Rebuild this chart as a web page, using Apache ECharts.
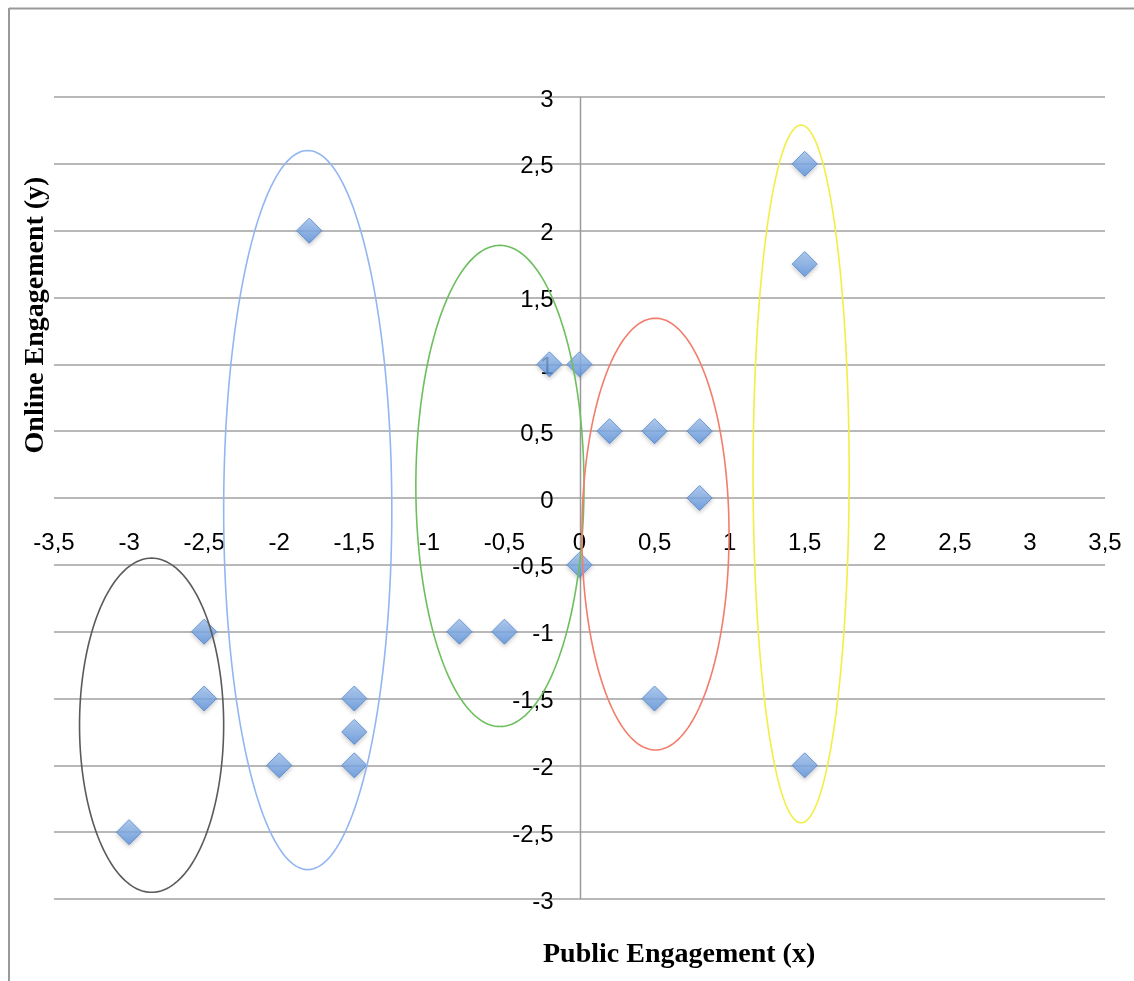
<!DOCTYPE html>
<html>
<head>
<meta charset="utf-8">
<script src="https://cdn.jsdelivr.net/npm/echarts@6/dist/echarts.min.js"></script>
<style>
  html, body { margin: 0; padding: 0; background: #fff; }
  #chart { width: 1134px; height: 981px; }
</style>
</head>
<body>
<div id="chart"></div>
<script>
// Engagement scores: public (x) vs online (y)
const pointsX = [-3, -2.5, -2.5, -1.8, -2, -1.5, -1.5, -1.5, -0.2, 0, -0.8, -0.5, 0, 0.2, 0.5, 0.8, 0.8, 0.5, 1.5, 1.5, 1.5];
const pointsY = [-2.5, -1, -1.5, 2, -2, -1.5, -1.75, -2, 1, 1, -1, -1, -0.5, 0.5, 0.5, 0.5, 0, -1.5, 2.5, 1.75, -2];

// Tick values; labels sit on the crossing axes (x=0 / y=0)
const xTicks = [-3.5, -3, -2.5, -2, -1.5, -1, -0.5, 0, 0.5, 1, 1.5, 2, 2.5, 3, 3.5];
const yTicks = [-3, -2.5, -2, -1.5, -1, -0.5, 0, 0.5, 1, 1.5, 2, 2.5, 3];

// Cluster outlines: centre and radii in data units
const clusterCx = [-2.85, -1.81, -0.53, 0.506, 1.476];
const clusterCy = [-1.70, -0.09, 0.09, -0.27, 0.18];
const clusterRx = [0.48, 0.56, 0.56, 0.49, 0.32];
const clusterRy = [1.25, 2.69, 1.80, 1.615, 2.61];
const clusterColors = ['#5a5a5a', '#92b6f2', '#6dbf5e', '#f27d6b', '#f2ee45'];

const xTitle = 'Public Engagement (x)';
const yTitle = 'Online Engagement (y)';

const fmt = v => String(v).replace('.', ',');
const tickFont = '24px "Liberation Sans"';

const chart = echarts.init(document.getElementById('chart'), null, { renderer: 'canvas' });

const scatterData = pointsX.map((x, i) => [x, pointsY[i]]);
const ellipseData = clusterCx.map((cx, i) => [cx, clusterCy[i], clusterRx[i], clusterRy[i], i]);
const xTickData = xTicks.map(v => [v, 0]);
const yTickData = yTicks.map(v => [0, v]);

chart.setOption({
  animation: false,
  backgroundColor: '#fff',
  grid: { left: 54, right: 29, top: 97, bottom: 82, containLabel: false },
  xAxis: {
    type: 'value', min: -3.5, max: 3.5, interval: 0.5,
    axisLine: { show: false },
    axisTick: { show: false },
    splitLine: { show: false },
    axisLabel: { show: false }
  },
  yAxis: {
    type: 'value', min: -3, max: 3, interval: 0.5,
    axisLine: { show: false },
    axisTick: { show: false },
    splitLine: { show: true, lineStyle: { color: '#a0a0a0', width: 1.5 } },
    axisLabel: { show: false }
  },
  graphic: [
    { type: 'line', shape: { x1: 9, y1: 8.5, x2: 1134, y2: 8.5 }, style: { stroke: '#999', lineWidth: 2 }, silent: true },
    { type: 'line', shape: { x1: 9, y1: 8, x2: 9, y2: 981 }, style: { stroke: '#999', lineWidth: 2 }, silent: true },
    {
      type: 'text', left: 543, top: 941,
      style: { text: xTitle, font: 'bold 28px "Liberation Serif"', fill: '#000' }
    },
    {
      type: 'text', x: 36, y: 315, rotation: Math.PI / 2,
      style: { text: yTitle, font: 'bold 28px "Liberation Serif"', fill: '#000', align: 'center', verticalAlign: 'middle' }
    }
  ],
  series: [
    {
      // vertical axis line through x = 0
      type: 'custom',
      data: [[0, -3, 3]],
      z: 1,
      silent: true,
      renderItem: function (params, api) {
        const a = api.coord([api.value(0), api.value(1)]);
        const b = api.coord([api.value(0), api.value(2)]);
        return {
          type: 'line',
          shape: { x1: Math.round(a[0]) + 0.5, y1: a[1], x2: Math.round(b[0]) + 0.5, y2: b[1] },
          style: { stroke: '#9a9a9a', lineWidth: 1.5 }
        };
      }
    },
    {
      // x tick labels below the y = 0 line
      type: 'custom',
      data: xTickData,
      z: 2,
      silent: true,
      renderItem: function (params, api) {
        const p = api.coord([api.value(0), api.value(1)]);
        return {
          type: 'text',
          x: p[0], y: p[1] + 45,
          style: { text: fmt(api.value(0)), font: tickFont, fill: '#000', align: 'center', verticalAlign: 'middle' }
        };
      }
    },
    {
      // y tick labels left of the x = 0 line
      type: 'custom',
      data: yTickData,
      z: 2,
      silent: true,
      renderItem: function (params, api) {
        const p = api.coord([api.value(0), api.value(1)]);
        return {
          type: 'text',
          x: p[0] - 26, y: p[1] + 3,
          style: { text: fmt(api.value(1)), font: tickFont, fill: '#000', align: 'right', verticalAlign: 'middle' }
        };
      }
    },
    {
      type: 'scatter',
      data: scatterData,
      symbol: 'diamond',
      symbolSize: [25, 25],
      z: 3,
      itemStyle: {
        color: new echarts.graphic.LinearGradient(0, 0, 0, 1, [
          { offset: 0, color: '#a6c8f4' },
          { offset: 1, color: '#5b93e0' }
        ]),
        borderColor: '#4f86d0',
        borderWidth: 1,
        shadowBlur: 4,
        shadowOffsetY: 2,
        shadowColor: 'rgba(0,0,0,0.25)'
      }
    },
    {
      type: 'custom',
      data: ellipseData,
      z: 4,
      silent: true,
      renderItem: function (params, api) {
        const c = api.coord([api.value(0), api.value(1)]);
        const s = api.size([api.value(2), api.value(3)]);
        const pts = [];
        const n = 180;
        for (let k = 0; k < n; k++) {
          const t = (k / n) * Math.PI * 2;
          pts.push([c[0] + s[0] * Math.cos(t), c[1] + s[1] * Math.sin(t)]);
        }
        return {
          type: 'polygon',
          shape: { points: pts },
          style: { fill: 'none', stroke: clusterColors[api.value(4)], lineWidth: 1.6 }
        };
      }
    }
  ]
});
</script>
</body>
</html>
